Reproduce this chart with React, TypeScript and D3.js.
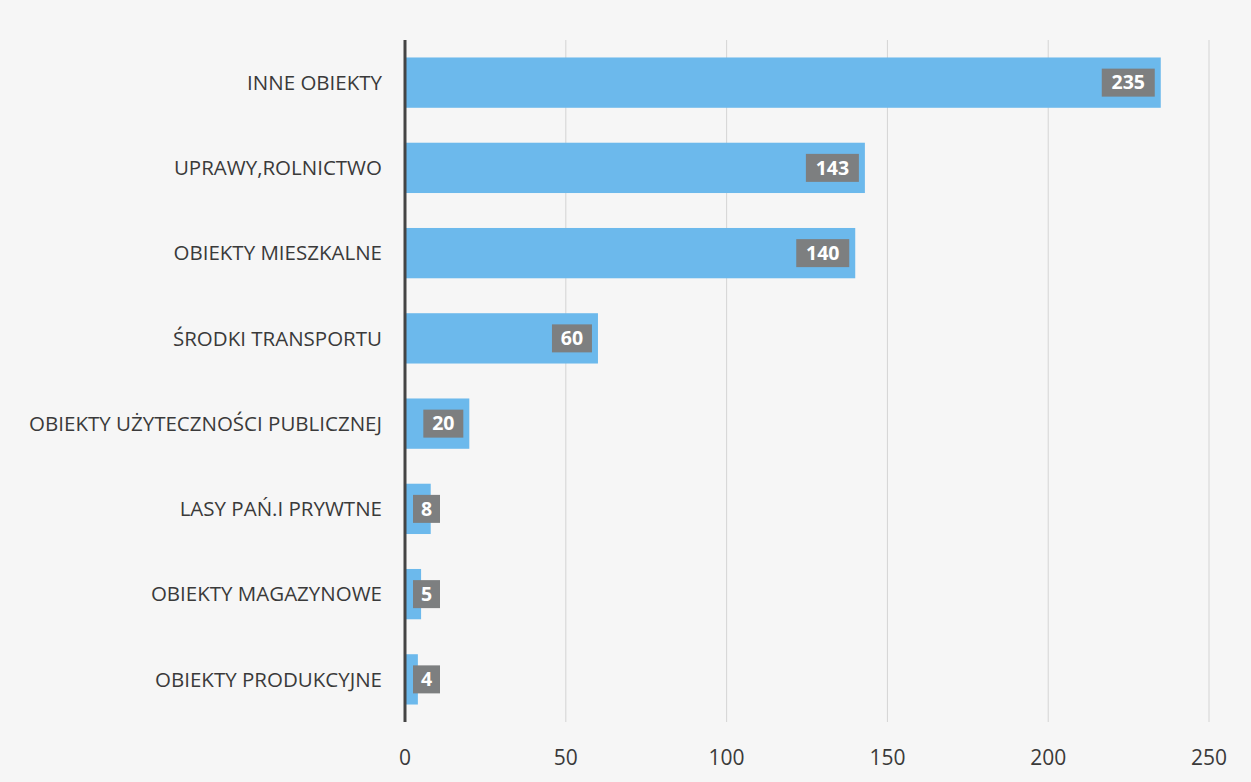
import React from "react";
import * as d3 from "d3";

const categories = [
  "INNE OBIEKTY",
  "UPRAWY,ROLNICTWO",
  "OBIEKTY MIESZKALNE",
  "ŚRODKI TRANSPORTU",
  "OBIEKTY UŻYTECZNOŚCI PUBLICZNEJ",
  "LASY PAŃ.I PRYWTNE",
  "OBIEKTY MAGAZYNOWE",
  "OBIEKTY PRODUKCYJNE",
];
const values = [235, 143, 140, 60, 20, 8, 5, 4];
const xTicks = [0, 50, 100, 150, 200, 250];

const W = 1251;
const H = 782;
const margin = { left: 405, right: 42, top: 40, bottom: 60 };

export default function App() {
  const x = d3.scaleLinear().domain([0, 250]).range([margin.left, W - margin.right]);
  const y = d3
    .scaleBand<string>()
    .domain(categories)
    .range([margin.top, H - margin.bottom])
    .paddingInner(0.41)
    .paddingOuter(0.205);
  const font = "'Open Sans', sans-serif";
  return (
    <svg
      width={W}
      height={H}
      style={{ position: "absolute", left: 0, top: 0, background: "#f6f6f6" }}
    >
      <rect width={W} height={H} fill="#f6f6f6" />
      {xTicks.slice(1).map((t) => (
        <line
          key={t}
          x1={x(t)}
          x2={x(t)}
          y1={margin.top}
          y2={H - margin.bottom}
          stroke="#d4d4d4"
          strokeWidth={1}
        />
      ))}
      {categories.map((c, i) => {
        const v = values[i];
        const y0 = y(c)!;
        const bh = y.bandwidth();
        const xe = x(v);
        const label = String(v);
        const bw = 14 + label.length * 13;
        let bx = xe - 6 - bw;
        if (bx < x(0) + 8) bx = x(0) + 8;
        return (
          <g key={c}>
            <rect x={x(0)} y={y0} width={xe - x(0)} height={bh} fill="#6cb9ec" />
            <rect x={bx} y={y0 + bh / 2 - 14} width={bw} height={28} fill="#7d7f80" />
            <text
              x={bx + bw / 2}
              y={y0 + bh / 2}
              dy="0.35em"
              textAnchor="middle"
              fill="#ffffff"
              fontWeight="bold"
              fontSize={19.5}
              fontFamily={font}
            >
              {label}
            </text>
            <text
              x={382}
              y={y0 + bh / 2}
              dy="0.35em"
              textAnchor="end"
              fill="#3a3a3a"
              fontSize={20.5}
              fontFamily={font}
            >
              {c}
            </text>
          </g>
        );
      })}
      <line
        x1={x(0)}
        x2={x(0)}
        y1={margin.top}
        y2={H - margin.bottom}
        stroke="#444444"
        strokeWidth={3}
      />
      {xTicks.map((t) => (
        <text
          key={t}
          x={x(t)}
          y={758}
          dy="0.35em"
          textAnchor="middle"
          fill="#3a3a3a"
          fontSize={21}
          fontFamily={font}
        >
          {t}
        </text>
      ))}
    </svg>
  );
}
